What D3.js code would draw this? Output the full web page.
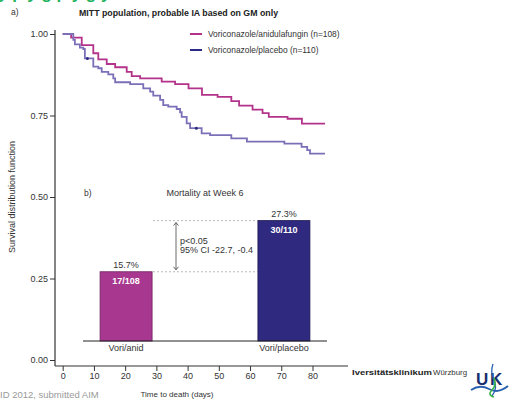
<!DOCTYPE html>
<meta charset="utf-8">
<script src="https://d3js.org/d3.v7.min.js"></script>
<style>
body { margin: 0; background: #fff; }
svg { display: block; font-family: "Liberation Sans", Arial, sans-serif; }
.tick text { fill: #333; font-size: 9px; }
.tick line { stroke: #333; }
</style>
<body>
<script>

// Kaplan-Meier steps, [day, survival]
var anidSteps = [[0,1.0],[2.7,0.989],[6.1,0.966],[9.8,0.941],[11.4,0.922],[14.1,0.908],[16.8,0.898],
    [20.5,0.884],[22.1,0.871],[24.8,0.864],[31.7,0.854],[36,0.846],[40.3,0.833],[44.6,0.813],
    [49.6,0.807],[54,0.794],[56.5,0.780],[60.8,0.768],[64,0.757],[66,0.746],[72,0.740],[76.6,0.725]];
var placeboSteps = [[0,1.0],[3.4,0.982],[3.9,0.968],[5.5,0.958],[6.6,0.954],[7.1,0.925],[9.8,0.900],
    [11.4,0.895],[12.5,0.884],[14.6,0.876],[16.2,0.864],[16.8,0.852],[21.6,0.846],[25.8,0.833],
    [28,0.823],[29,0.811],[31.2,0.798],[32.2,0.782],[33.8,0.777],[36.5,0.770],[37.6,0.760],
    [38.1,0.746],[39.7,0.726],[40.8,0.711],[44.5,0.695],[47.2,0.690],[54,0.680],[59,0.670],
    [71,0.664],[76.5,0.654],[78.3,0.644],[79.2,0.633]];
var lastDay = 84;
var placeboCensor = [[7.9,0.925],[42.8,0.711]];

var seriesNames = ["Voriconazole/anidulafungin (n=108)", "Voriconazole/placebo (n=110)"];
var xTicks = [0,10,20,30,40,50,60,70,80];
var yTicks = [0,0.25,0.5,0.75,1];

// inset: mortality at week 6
var barCats = ["Vori/anid", "Vori/placebo"];
var barPct = [15.7, 27.3];
var barCounts = ["17/108", "30/110"];

var W = 515, H = 400;
var svg = d3.select("body").append("svg").attr("width", W).attr("height", H);

var x = d3.scaleLinear().domain([0, 80]).range([62.7, 312.5]);
var y = d3.scaleLinear().domain([0, 1]).range([360, 34]);

// green slide title, mostly above the visible area
svg.append("text").attr("x", -2).attr("y", -1)
    .attr("fill", "#22b35c").attr("font-size", "17px").attr("font-weight", "bold")
    .text("y         p       y         g              p   y           g       y");

svg.append("text").attr("x", 11).attr("y", 15).attr("font-size", "8.5px").attr("fill", "#333").text("a)");
svg.append("text").attr("x", 79).attr("y", 16).attr("font-size", "8.8px").attr("font-weight", "bold")
    .attr("fill", "#222").text("MITT population, probable IA based on GM only");

// axes
var yAxis = svg.append("g").attr("transform", "translate(55,0)")
    .call(d3.axisLeft(y).tickValues(yTicks).tickSize(5).tickPadding(2).tickFormat(d3.format(".2f")));
yAxis.select(".domain").remove();
svg.append("line").attr("x1", 55).attr("x2", 55).attr("y1", 30).attr("y2", 366)
    .attr("stroke", "#333").attr("stroke-width", 1.2);

var xAxis = svg.append("g").attr("transform", "translate(0,366)")
    .call(d3.axisBottom(x).tickValues(xTicks).tickSize(5).tickPadding(1.5));
xAxis.select(".domain").remove();
svg.append("line").attr("x1", 55).attr("x2", 348).attr("y1", 366).attr("y2", 366)
    .attr("stroke", "#333").attr("stroke-width", 1.2);

svg.append("text").attr("transform", "translate(15,197) rotate(-90)")
    .attr("text-anchor", "middle").attr("font-size", "9px").attr("fill", "#333")
    .text("Survival distribution function");
svg.append("text").attr("x", 177).attr("y", 397).attr("text-anchor", "middle")
    .attr("font-size", "8px").attr("fill", "#333").text("Time to death (days)");

// KM curves
var line = d3.line().curve(d3.curveStepAfter).x(d => x(d[0])).y(d => y(d[1]));
function withEnd(s) { return s.concat([[lastDay, s[s.length - 1][1]]]); }

svg.append("path").datum(withEnd(anidSteps)).attr("d", line)
    .attr("fill", "none").attr("stroke", "#b3338a").attr("stroke-width", 1.8);
svg.append("path").datum(withEnd(placeboSteps)).attr("d", line)
    .attr("fill", "none").attr("stroke", "#7b70b8").attr("stroke-width", 1.8);
svg.selectAll(".censor").data(placeboCensor).enter().append("circle")
    .attr("cx", d => x(d[0])).attr("cy", d => y(d[1])).attr("r", 1.5).attr("fill", "#2b2a7a");

// legend
var legColors = ["#b3338a", "#2b2a84"];
seriesNames.forEach(function (n, i) {
    svg.append("line").attr("x1", 190).attr("x2", 202).attr("y1", 34 + i * 16).attr("y2", 34 + i * 16)
        .attr("stroke", legColors[i]).attr("stroke-width", 2);
    svg.append("text").attr("x", 208).attr("y", 37 + i * 16).attr("font-size", "8.4px")
        .attr("fill", "#333").text(n);
});

// inset bar chart
var xb = d3.scalePoint().domain(barCats).range([83, 327]).padding(0.273);
var yb = d3.scaleLinear().domain([0, 30]).range([341, 341 - 132.3]);
var bw = 52;
var barFill = ["#a8378f", "#2f2a7f"];
var barStroke = ["#6d2060", "#1c1850"];

svg.append("text").attr("x", 84).attr("y", 196).attr("font-size", "8.5px").attr("fill", "#333").text("b)");
svg.append("text").attr("x", 205).attr("y", 196).attr("text-anchor", "middle").attr("font-size", "9px")
    .attr("fill", "#333").text("Mortality at Week 6");

barPct.forEach(function (p, i) {
    svg.append("line").attr("x1", 153).attr("x2", xb(barCats[1]) - bw / 2)
        .attr("y1", yb(p)).attr("y2", yb(p))
        .attr("stroke", "#aaa").attr("stroke-width", 0.8).attr("stroke-dasharray", "2,2");
});

svg.selectAll(".bar").data(barPct).enter().append("rect")
    .attr("x", (d, i) => xb(barCats[i]) - bw / 2).attr("width", bw)
    .attr("y", d => yb(d)).attr("height", d => yb(0) - yb(d))
    .attr("fill", (d, i) => barFill[i]).attr("stroke", (d, i) => barStroke[i]).attr("stroke-width", 0.8);

svg.selectAll(".pct").data(barPct).enter().append("text")
    .attr("x", (d, i) => xb(barCats[i])).attr("y", d => yb(d) - 4)
    .attr("text-anchor", "middle").attr("font-size", "9px").attr("fill", "#333")
    .text(d => d + "%");
svg.selectAll(".cnt").data(barPct).enter().append("text")
    .attr("x", (d, i) => xb(barCats[i])).attr("y", d => yb(d) + 12)
    .attr("text-anchor", "middle").attr("font-size", "9px").attr("font-weight", "bold").attr("fill", "#fff")
    .text((d, i) => barCounts[i]);
svg.selectAll(".cat").data(barCats).enter().append("text")
    .attr("x", d => xb(d)).attr("y", 351)
    .attr("text-anchor", "middle").attr("font-size", "9px").attr("fill", "#333").text(d => d);

svg.append("line").attr("x1", 83).attr("x2", 327).attr("y1", yb(0)).attr("y2", yb(0))
    .attr("stroke", "#222").attr("stroke-width", 1);

// double arrow between the two rates
var ax = 176, a1 = yb(barPct[1]) + 2, a2 = yb(barPct[0]) - 2;
svg.append("line").attr("x1", ax).attr("x2", ax).attr("y1", a1).attr("y2", a2)
    .attr("stroke", "#444").attr("stroke-width", 0.8);
svg.append("path").attr("d", `M${ax - 2.5},${a1 + 3}L${ax},${a1}L${ax + 2.5},${a1 + 3}M${ax - 2.5},${a2 - 3}L${ax},${a2}L${ax + 2.5},${a2 - 3}`)
    .attr("fill", "none").attr("stroke", "#444").attr("stroke-width", 0.8);
svg.append("text").attr("x", 180).attr("y", 244).attr("font-size", "9px").attr("fill", "#333").text("p<0.05");
svg.append("text").attr("x", 180).attr("y", 253).attr("font-size", "9px").attr("fill", "#333").text("95% CI -22.7, -0.4");

// footer
svg.append("text").attr("x", 0).attr("y", 398).attr("font-size", "9.5px").attr("fill", "#9a9a9a")
    .text("ID 2012, submitted AIM");
svg.append("text").attr("x", 352).attr("y", 375).attr("font-size", "7.5px").attr("font-weight", "bold")
    .attr("fill", "#222").attr("textLength", 80).attr("lengthAdjust", "spacingAndGlyphs").text("Iversitätsklinikum");
svg.append("text").attr("x", 433).attr("y", 375).attr("font-size", "7.5px").attr("fill", "#333")
    .attr("textLength", 34).attr("lengthAdjust", "spacingAndGlyphs").text("Würzburg");

// logo
svg.append("text").attr("x", 476).attr("y", 385).attr("font-size", "17px").attr("font-weight", "bold")
    .attr("fill", "#1a2f6e").text("U");
svg.append("text").attr("x", 490).attr("y", 385).attr("font-size", "17px").attr("font-weight", "bold")
    .attr("fill", "#1a2f6e").text("K");
svg.append("path").attr("d", "M471,390 Q480,384 489,389 T508,386")
    .attr("fill", "none").attr("stroke", "#2b62b0").attr("stroke-width", 2);
svg.append("path").attr("d", "M493,364 Q490,372 494,380 T492,396")
    .attr("fill", "none").attr("stroke", "#2b62b0").attr("stroke-width", 1.3);
svg.append("path").attr("d", "M494,378 Q497,385 492,390 T494,397")
    .attr("fill", "none").attr("stroke", "#3cb44a").attr("stroke-width", 1.6);

</script>
</body>
